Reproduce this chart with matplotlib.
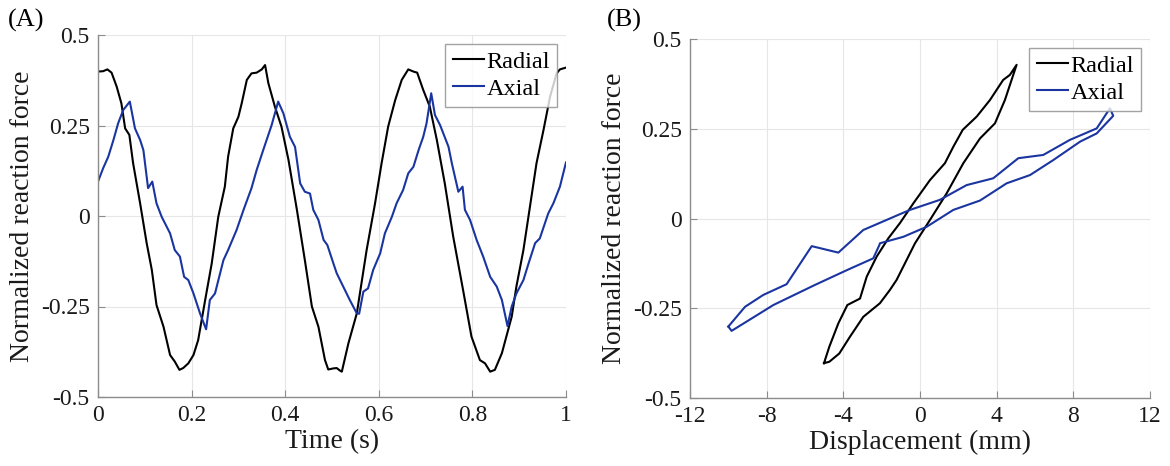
import matplotlib
matplotlib.use("Agg")
import matplotlib.pyplot as plt

# ---------------- data ----------------
time_radial = [0.0, 0.011, 0.02, 0.029, 0.04, 0.05, 0.058, 0.067, 0.075, 0.09, 0.104, 0.115,
               0.125, 0.14, 0.154, 0.164, 0.174, 0.182, 0.193, 0.204, 0.214, 0.229, 0.243,
               0.257, 0.271, 0.278, 0.289, 0.3, 0.307, 0.318, 0.328, 0.339, 0.35, 0.357,
               0.364, 0.378, 0.392, 0.407, 0.425, 0.442, 0.457, 0.471, 0.485, 0.492, 0.503,
               0.51, 0.517, 0.521, 0.535, 0.553, 0.574, 0.592, 0.606, 0.62, 0.635, 0.649,
               0.663, 0.674, 0.682, 0.695, 0.709, 0.724, 0.741, 0.759, 0.78, 0.798, 0.816,
               0.827, 0.838, 0.848, 0.863, 0.884, 0.894, 0.909, 0.923, 0.937, 0.952, 0.966,
               0.98, 0.987, 1.0]
force_radial = [0.399, 0.40, 0.405, 0.396, 0.357, 0.311, 0.242, 0.224, 0.146, 0.035, -0.075,
                -0.149, -0.246, -0.306, -0.384, -0.402, -0.425, -0.42, -0.407, -0.384, -0.343,
                -0.232, -0.131, -0.002, 0.081, 0.164, 0.242, 0.274, 0.311, 0.376, 0.394, 0.396,
                0.405, 0.417, 0.367, 0.302, 0.247, 0.155, 0.017, -0.122, -0.25, -0.306, -0.398,
                -0.424, -0.421, -0.42, -0.427, -0.43, -0.352, -0.269, -0.094, 0.035, 0.146,
                0.247, 0.32, 0.376, 0.405, 0.399, 0.396, 0.348, 0.302, 0.21, 0.09, -0.057,
                -0.204, -0.333, -0.398, -0.407, -0.43, -0.425, -0.379, -0.278, -0.195, -0.094,
                0.026, 0.146, 0.238, 0.33, 0.394, 0.405, 0.41]

time_axial = [0.0, 0.011, 0.022, 0.033, 0.043, 0.054, 0.068, 0.079, 0.09, 0.097, 0.107, 0.116,
              0.125, 0.136, 0.154, 0.164, 0.175, 0.184, 0.193, 0.204, 0.218, 0.231, 0.239,
              0.25, 0.268, 0.278, 0.296, 0.311, 0.328, 0.339, 0.353, 0.371, 0.385, 0.396,
              0.41, 0.421, 0.432, 0.442, 0.453, 0.46, 0.471, 0.482, 0.49, 0.503, 0.51, 0.524,
              0.538, 0.553, 0.558, 0.567, 0.577, 0.588, 0.603, 0.613, 0.628, 0.638, 0.652,
              0.663, 0.674, 0.685, 0.695, 0.702, 0.712, 0.72, 0.731, 0.749, 0.756, 0.77,
              0.779, 0.784, 0.795, 0.809, 0.823, 0.838, 0.852, 0.863, 0.875, 0.884, 0.894,
              0.909, 0.92, 0.934, 0.944, 0.962, 0.973, 0.987, 1.0]
force_axial = [0.095, 0.132, 0.164, 0.21, 0.256, 0.293, 0.316, 0.242, 0.21, 0.182, 0.077, 0.095,
               0.035, -0.002, -0.048, -0.094, -0.112, -0.168, -0.177, -0.214, -0.269, -0.313,
               -0.232, -0.214, -0.122, -0.094, -0.039, 0.017, 0.077, 0.127, 0.182, 0.251,
               0.316, 0.284, 0.219, 0.191, 0.09, 0.067, 0.062, 0.017, -0.011, -0.066, -0.08,
               -0.131, -0.158, -0.195, -0.232, -0.269, -0.27, -0.209, -0.2, -0.149, -0.103,
               -0.048, -0.002, 0.035, 0.072, 0.118, 0.136, 0.182, 0.219, 0.256, 0.339, 0.279,
               0.251, 0.191, 0.146, 0.067, 0.081, 0.017, -0.011, -0.066, -0.112, -0.168,
               -0.195, -0.232, -0.304, -0.25, -0.214, -0.177, -0.131, -0.075, -0.062, 0.007,
               0.035, 0.081, 0.148]

disp_radial = [-5.01, -4.73, -4.26, -3.79, -3.13, -2.78, -2.26, -1.65, -1.05, -0.35, 0.52,
               1.30, 1.74, 2.23, 2.96, 3.65, 4.34, 4.69, 5.04, 4.43, 3.91, 3.13, 2.26, 1.39,
               0.52, -0.26, -1.22, -1.57, -2.09, -2.96, -3.65, -4.21, -4.73, -5.01]
loop_radial = [-0.403, -0.357, -0.292, -0.241, -0.223, -0.162, -0.106, -0.055, -0.013, 0.042,
               0.107, 0.154, 0.2, 0.247, 0.284, 0.33, 0.386, 0.4, 0.428, 0.33, 0.265, 0.223,
               0.154, 0.07, -0.004, -0.069, -0.171, -0.199, -0.236, -0.274, -0.329, -0.376,
               -0.399, -0.403]

disp_axial = [-10.0, -9.13, -8.18, -6.96, -5.65, -4.26, -2.96, -1.57, -1.05, -0.52, 1.04, 2.43,
              3.82, 5.13, 6.43, 7.82, 9.22, 9.91, 10.08, 9.22, 8.35, 6.96, 5.74, 4.52, 3.13,
              1.74, 0.35, -0.87, -2.09, -2.12, -2.44, -3.74, -5.48, -7.65, -9.83, -10.0]
loop_axial = [-0.301, -0.246, -0.213, -0.183, -0.077, -0.095, -0.032, 0.0, 0.012, 0.024, 0.052,
              0.093, 0.112, 0.168, 0.177, 0.219, 0.251, 0.307, 0.286, 0.237, 0.214, 0.163,
              0.121, 0.098, 0.05, 0.024, -0.023, -0.051, -0.069, -0.074, -0.111, -0.142,
              -0.185, -0.241, -0.313, -0.301]

series_names = ["Radial", "Axial"]
yticks = [-0.5, -0.25, 0, 0.25, 0.5]
ytick_labels = ["-0.5", "-0.25", "0", "0.25", "0.5"]
xticks_time = [0, 0.2, 0.4, 0.6, 0.8, 1.0]
xtick_labels_time = ["0", "0.2", "0.4", "0.6", "0.8", "1"]
xticks_disp = [-12, -8, -4, 0, 4, 8, 12]
xtick_labels_disp = ["-12", "-8", "-4", "0", "4", "8", "12"]

# ---------------- style ----------------
plt.rcParams['font.family'] = ['Liberation Serif', 'DejaVu Serif']
BLACK = '#000000'
BLUE = '#1a35a0'
SPINE = '#8c8c8c'

fig = plt.figure(figsize=(11.70, 4.66), dpi=100)
axA = fig.add_axes([98/1170, 1-397/466, 468/1170, 362/466])
axB = fig.add_axes([690/1170, 1-398/466, 460/1170, 359/466])


def style(ax):
    for s in ['top', 'right']:
        ax.spines[s].set_visible(False)
    for s in ['left', 'bottom']:
        ax.spines[s].set_color(SPINE)
        ax.spines[s].set_linewidth(1.0)
    ax.tick_params(direction='in', length=5, width=0.8, color=SPINE,
                   labelsize=17, labelcolor='#1a1a1a', pad=6)
    ax.grid(True, color='#e6e6e6', linewidth=0.8)
    ax.set_axisbelow(True)
    ax.set_ylim(-0.5, 0.5)
    ax.set_yticks(yticks)
    ax.set_yticklabels(ytick_labels)
    ax.set_ylabel("Normalized reaction force", fontsize=20, color='#1a1a1a', labelpad=4)


style(axA)
axA.plot(time_radial, force_radial, color=BLACK, lw=1.5, label=series_names[0])
axA.plot(time_axial, force_axial, color=BLUE, lw=1.5, label=series_names[1])
axA.set_xlim(0, 1)
axA.set_xticks(xticks_time)
axA.set_xticklabels(xtick_labels_time)
axA.set_xlabel("Time (s)", fontsize=20, color='#1a1a1a', labelpad=2)

style(axB)
axB.plot(disp_radial, loop_radial, color=BLACK, lw=1.5, label=series_names[0])
axB.plot(disp_axial, loop_axial, color=BLUE, lw=1.5, label=series_names[1])
axB.set_xlim(-12, 12)
axB.set_xticks(xticks_disp)
axB.set_xticklabels(xtick_labels_disp)
axB.set_xlabel("Displacement (mm)", fontsize=20, color='#1a1a1a', labelpad=2)

for ax in (axA, axB):
    leg = ax.legend(loc='upper right', fontsize=17.5, frameon=True, fancybox=False,
                    handlelength=1.3, handletextpad=0.1, borderpad=0.3,
                    labelspacing=0.2, borderaxespad=0.35)
    leg.get_frame().set_edgecolor('#8c8c8c')
    leg.get_frame().set_linewidth(1.0)

fig.text(8/1170, 1-20/466, "(A)", fontsize=19, va='center', ha='left')
fig.text(607/1170, 1-20/466, "(B)", fontsize=19, va='center', ha='left')

fig.savefig("out.png", dpi=100)
